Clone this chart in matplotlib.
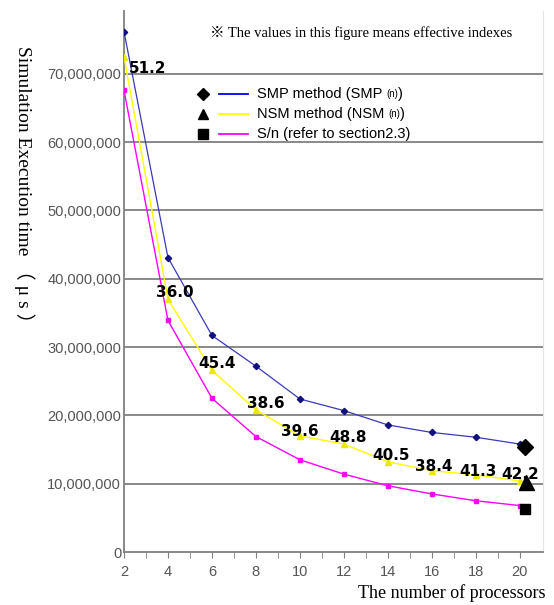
import matplotlib
matplotlib.use('Agg')
import matplotlib.pyplot as plt

# processors and measured execution times (microseconds)
procs = [2, 4, 6, 8, 10, 12, 14, 16, 18, 20]
smp_time = [76.2e6, 43.1e6, 31.7e6, 27.2e6, 22.4e6, 20.7e6, 18.6e6, 17.5e6, 16.8e6, 15.8e6]
nsm_time = [72.5e6, 37.0e6, 26.6e6, 20.8e6, 17.0e6, 15.8e6, 13.2e6, 11.9e6, 11.3e6, 10.4e6]
sn_time = [67.6e6, 33.9e6, 22.5e6, 16.9e6, 13.5e6, 11.4e6, 9.7e6, 8.5e6, 7.5e6, 6.8e6]
# effective indexes printed next to the NSM curve
eff_index = ['51.2', '36.0', '45.4', '38.6', '39.6', '48.8', '40.5', '38.4', '41.3', '42.2']

yticks = [0, 10e6, 20e6, 30e6, 40e6, 50e6, 60e6, 70e6]
ytick_labels = ['0', '10,000,000', '20,000,000', '30,000,000', '40,000,000',
                '50,000,000', '60,000,000', '70,000,000']
xticks = [2, 4, 6, 8, 10, 12, 14, 16, 18, 20]

tick_font = 'Liberation Sans'
serif = ['Liberation Serif', 'Noto Sans CJK JP']

fig = plt.figure(figsize=(5.54, 6.05), dpi=100)
ax = fig.add_axes([0.2238, 0.0876, 0.7562, 0.8942])

ax.set_xlim(2, 21.05)
ax.set_ylim(0, 79.2e6)

ax.set_yticks(yticks)
ax.set_yticklabels(ytick_labels, fontfamily=tick_font, fontsize=10.5, color='#555555')
ax.set_xticks(xticks)
ax.set_xticklabels([str(x) for x in xticks], fontfamily=tick_font, fontsize=10.5, color='#555555')
ax.set_xticks(range(3, 21, 2), minor=True)
ax.tick_params(axis='y', length=0, pad=2)
ax.tick_params(axis='x', which='both', direction='out', length=4, color='#808080', pad=5)

for y in yticks[1:]:
    ax.axhline(y, color='#808080', lw=1.3, zorder=0)

for side in ['left', 'bottom']:
    ax.spines[side].set_color('#808080')
    ax.spines[side].set_linewidth(1.3)
ax.spines['top'].set_visible(False)
ax.spines['right'].set_color('#e4e4e4')

# the three curves
ax.plot(procs, smp_time, color='#3a3ab8', lw=0.9, marker='D', ms=3.2,
        mfc='#101080', mec='#101080', zorder=3)
ax.plot(procs, nsm_time, color='#ffff00', lw=1.0, marker='^', ms=4.5,
        mfc='#e8e800', mec='#e8e800', zorder=3)
ax.plot(procs, sn_time, color='#ff00ff', lw=1.0, marker='s', ms=3.5,
        mfc='#ff00ff', mec='#ff00ff', zorder=3)

# big black end markers
ax.plot(20.25, 15.4e6, marker='D', ms=8.1, color='black', zorder=4, clip_on=False)
ax.plot(20.28, 10.2e6, marker='^', ms=10.8, color='black', zorder=4, clip_on=False)
ax.plot(20.25, 6.3e6, marker='s', ms=7.9, color='black', zorder=4, clip_on=False)

# effective index labels
offsets = [(1.05, -1.7e6), (0.3, 1.0e6), (0.25, 1.0e6), (0.45, 0.9e6), (0.0, 0.6e6),
           (0.2, 0.9e6), (0.16, 1.0e6), (0.1, 0.6e6), (0.1, 0.5e6), (0.0, 0.9e6)]
for x, y, lab, (dx, dy) in zip(procs, nsm_time, eff_index, offsets):
    ax.text(x + dx, y + dy, lab, fontsize=11, fontweight='bold', ha='center', va='center',
            fontfamily='DejaVu Sans', zorder=5)

# hand-made legend
leg_rows = [
    ('D', 6.1, '#0000ff', 'SMP method (SMP ', ')'),
    ('^', 7.2, '#ffff00', 'NSM method (NSM ', ')'),
    ('s', 7.0, '#ff00ff', 'S/n (refer to section2.3)', None),
]
leg_y = [0.8466, 0.8096, 0.7726]
for (mk, ms, col, txt, tail), y in zip(leg_rows, leg_y):
    ax.plot([0.1885], [y], marker=mk, ms=ms, color='black', transform=ax.transAxes)
    ax.plot([0.2267, 0.2959], [y, y], color=col, lw=1.3, transform=ax.transAxes)
    t = ax.text(0.3174, y, txt, transform=ax.transAxes, fontsize=10.5,
                fontfamily=tick_font, va='center', ha='left')
    if tail:
        sub = ax.annotate('(n)', xy=(1, 0.15), xycoords=t, fontsize=7,
                          fontfamily=tick_font, va='bottom', ha='left')
        ax.annotate(tail, xy=(1, 0), xycoords=sub, xytext=(0, -1.6),
                    textcoords='offset points', fontsize=10.5,
                    fontfamily=tick_font, va='bottom', ha='left')

ax.text(0.2053, 0.9593, '※ The values in this figure means effective indexes',
        transform=ax.transAxes, fontsize=10.5, fontfamily=serif, va='center', ha='left')

fig.text(0.984, 0.0198, 'The number of processors', fontsize=13, fontfamily=serif,
         ha='right', va='center')
fig.text(0.0433, 0.688, 'Simulation Execution time （ μ s ）', fontsize=14,
         fontfamily=serif, rotation=-90, ha='center', va='center')

fig.savefig('out.png', dpi=100)
